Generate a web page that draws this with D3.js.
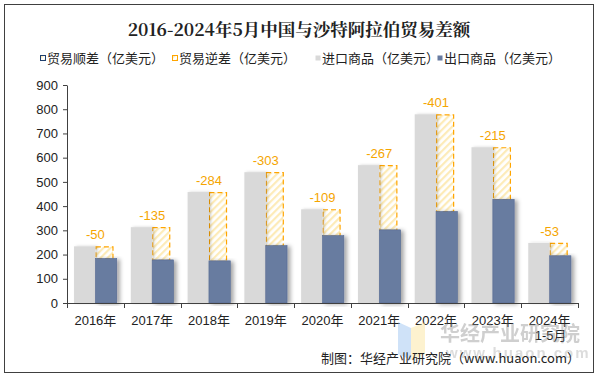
<!DOCTYPE html>
<html>
  <head>
    <meta charset="utf-8">
    <title>中国与沙特阿拉伯贸易差额</title>
    <script src="https://cdn.jsdelivr.net/npm/d3@7"></script>
    <style>
      body { margin: 0; background: #fff; }
      text { font-family: Arial, "Liberation Sans", "Noto Sans CJK SC", sans-serif; }
    </style>
  </head>
  <body>
    <svg id="container" width="598" height="377"></svg>
  </body>
  <script>
    const years = ["2016年", "2017年", "2018年", "2019年", "2020年", "2021年", "2022年", "2023年", "2024年"];
    const imports = [234, 313, 458, 540, 387, 569, 779, 643, 248];
    const exports = [184, 178, 174, 237, 278, 302, 378, 428, 195];
    const balance = [-50, -135, -284, -303, -109, -267, -401, -215, -53];
    const yTicks = [0, 100, 200, 300, 400, 500, 600, 700, 800, 900];

    const svg = d3.select("#container");
    const fontCJK = "'Noto Sans CJK SC', sans-serif";

    // frame
    svg.append("rect")
      .attr("x", 4.5).attr("y", 4.5).attr("width", 589).attr("height", 368)
      .attr("fill", "#fff").attr("stroke", "#404040").attr("stroke-width", 1);

    // hatch for the deficit box
    const defs = svg.append("defs");
    const pat = defs.append("pattern")
      .attr("id", "hatch").attr("patternUnits", "userSpaceOnUse")
      .attr("width", 5).attr("height", 5)
      .attr("patternTransform", "rotate(45)");
    pat.append("rect").attr("width", 5).attr("height", 5).attr("fill", "#fff");
    pat.append("rect").attr("width", 2.2).attr("height", 5).attr("fill", "#fdebb8");

    const shadow = defs.append("filter").attr("id", "shadow")
      .attr("x", "-20%").attr("y", "-5%").attr("width", "160%").attr("height", "110%");
    shadow.append("feDropShadow")
      .attr("dx", 3).attr("dy", 1).attr("stdDeviation", 2)
      .attr("flood-color", "#000").attr("flood-opacity", 0.35);
    const shadowLight = defs.append("filter").attr("id", "shadowLight")
      .attr("x", "-20%").attr("y", "-5%").attr("width", "160%").attr("height", "110%");
    shadowLight.append("feDropShadow")
      .attr("dx", 2).attr("dy", 0).attr("stdDeviation", 1.5)
      .attr("flood-color", "#000").attr("flood-opacity", 0.18);

    // title
    svg.append("text")
      .attr("x", 299).attr("y", 36)
      .attr("text-anchor", "middle")
      .style("font-family", "'Noto Serif CJK SC', 'Noto Sans CJK SC', serif")
      .style("font-weight", "bold").style("font-size", "17.5px").attr("fill", "#222")
      .text("2016-2024年5月中国与沙特阿拉伯贸易差额");

    // legend
    const legend = [
      { label: "贸易顺差（亿美元）", x: 40, fill: "url(#hatch)", stroke: "#1f3f6e" },
      { label: "贸易逆差（亿美元）", x: 172, fill: "url(#hatch)", stroke: "#ffa500" },
      { label: "进口商品（亿美元）", x: 315, fill: "#d9d9d9", stroke: "none" },
      { label: "出口商品（亿美元）", x: 437, fill: "#687ba0", stroke: "none" }
    ];
    const lg = svg.selectAll(".lg").data(legend).enter().append("g")
      .attr("transform", d => `translate(${d.x},0)`);
    lg.append("rect")
      .attr("x", 0.5).attr("y", 55.5).attr("width", 5).attr("height", 5)
      .attr("fill", d => d.fill).attr("stroke", d => d.stroke).attr("stroke-width", 1);
    lg.append("text")
      .attr("x", 7).attr("y", 63)
      .style("font-family", fontCJK).style("font-size", "13px").attr("fill", "#222")
      .text(d => d.label);

    // scales
    const x = d3.scaleBand().domain(years).range([67, 578]);
    const inner = d3.scaleBand().domain(["imp", "exp"]).range([0, x.bandwidth()])
      .paddingInner(0).paddingOuter(0.33);
    const y = d3.scaleLinear().domain([0, 900]).range([303, 85]);

    // y axis
    const yAxis = svg.append("g").attr("transform", "translate(67,0)")
      .call(d3.axisLeft(y).tickValues(yTicks).tickSize(4).tickPadding(5).tickSizeOuter(0));
    yAxis.select(".domain").attr("stroke", "#404040");
    yAxis.selectAll(".tick line").attr("stroke", "#404040");
    yAxis.selectAll(".tick text")
      .style("font-family", "Arial, 'Liberation Sans', sans-serif")
      .style("font-size", "13px").attr("fill", "#222");

    const data = years.map((yr, i) => ({ yr, imp: imports[i], exp: exports[i], bal: balance[i] }));

    const g = svg.selectAll(".cat").data(data).enter().append("g")
      .attr("transform", d => `translate(${x(d.yr)},0)`);

    // deficit box, stacked between export and import
    g.append("rect")
      .attr("x", inner("exp") + 0.5).attr("width", inner.bandwidth() * 0.8)
      .attr("y", d => y(d.imp) + 0.5).attr("height", d => y(d.exp) - y(d.imp))
      .attr("fill", "url(#hatch)")
      .attr("stroke", "#ffa500").attr("stroke-width", 1.2).attr("stroke-dasharray", "5,3");

    // import bars
    g.append("rect")
      .attr("x", inner("imp")).attr("width", inner.bandwidth())
      .attr("y", d => y(d.imp)).attr("height", d => y(0) - y(d.imp))
      .attr("fill", "#d9d9d9").attr("filter", "url(#shadowLight)");

    // export bars
    g.append("rect")
      .attr("x", inner("exp")).attr("width", inner.bandwidth())
      .attr("y", d => y(d.exp)).attr("height", d => y(0) - y(d.exp))
      .attr("fill", "#687ba0").attr("stroke", "#566a92").attr("stroke-width", 0.6)
      .attr("filter", "url(#shadow)");

    g.append("text")
      .attr("x", x.bandwidth() / 2).attr("y", d => y(d.imp) - 7)
      .attr("text-anchor", "middle")
      .style("font-family", "Arial, 'Liberation Sans', sans-serif").style("font-size", "13px")
      .attr("fill", "#f5a500")
      .text(d => d.bal);

    // x axis
    const xAxisG = svg.append("g").attr("transform", "translate(0,303)");
    xAxisG.append("line").attr("x1", 67).attr("x2", 578).attr("y1", 0.5).attr("y2", 0.5)
      .attr("stroke", "#404040");
    xAxisG.selectAll(".xt").data(years.concat(["end"])).enter().append("line")
      .attr("x1", (d, i) => Math.round(67 + i * x.step()) + 0.5)
      .attr("x2", (d, i) => Math.round(67 + i * x.step()) + 0.5)
      .attr("y1", 0).attr("y2", 5).attr("stroke", "#404040");
    xAxisG.selectAll(".xl").data(years).enter().append("text")
      .attr("x", d => x(d) + x.bandwidth() / 2).attr("y", 22)
      .attr("text-anchor", "middle")
      .style("font-size", "13px").attr("fill", "#222")
      .text(d => d);

    // watermark (drawn under the 1-5月 label and source line)
    const wm = svg.append("g").attr("opacity", 0.4);
    wm.append("path").attr("d", "M398,322 L411,328 L411,360 L398,354 Z").attr("fill", "#8ab8f0");
    wm.append("path").attr("d", "M411,328 L425,322 L425,354 L411,360 Z").attr("fill", "#fbe08a");
    wm.append("text").attr("x", 440).attr("y", 341)
      .style("font-family", fontCJK).style("font-weight", "bold").style("font-size", "20px")
      .attr("fill", "#888").text("华经产业研究院");
    wm.append("text").attr("x", 446).attr("y", 358)
      .style("font-size", "15px").style("font-weight", "bold").attr("fill", "#aaa")
      .attr("letter-spacing", "2px").text("www.huaon.com");

    xAxisG.append("text")
      .attr("x", x("2024年") + x.bandwidth() / 2 + 1).attr("y", 37)
      .attr("text-anchor", "middle")
      .style("font-size", "13px").attr("fill", "#222")
      .text("1-5月");

    // source
    svg.append("text")
      .attr("x", 580).attr("y", 363).attr("text-anchor", "end")
      .style("font-family", fontCJK).style("font-size", "13px").attr("fill", "#222")
      .text("制图：华经产业研究院（www.huaon.com）");
  </script>
</html>
